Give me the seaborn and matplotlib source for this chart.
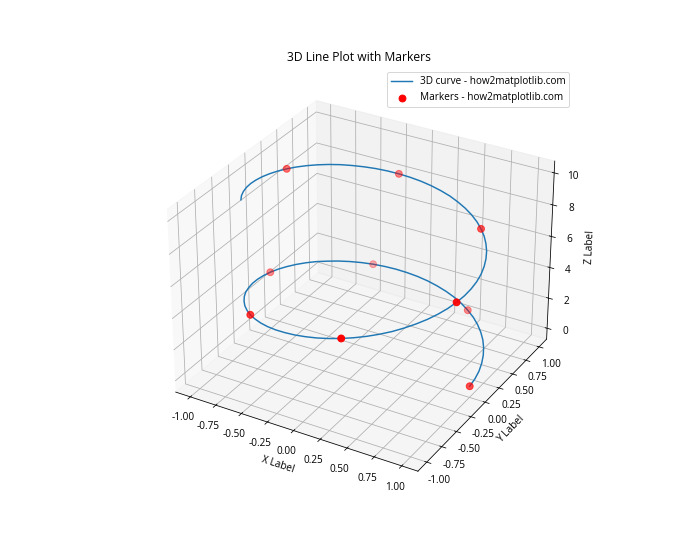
import matplotlib
matplotlib.use('Agg')
import matplotlib.pyplot as plt
import seaborn as sns

sns.reset_orig()
plt.rcParams['font.family'] = ['Open Sans', 'DejaVu Sans']
plt.rcParams['font.size'] = 10.35
plt.rcParams['axes.unicode_minus'] = False

curve_x = [1.000, .995, .980, .954, .919, .875, .822, .760, .691, .615,
           .531, .444, .351, .255, .156, .056, -.045, -.146, -.245, -.341,
           -.434, -.523, -.606, -.683, -.753, -.816, -.870, -.915, -.951, -.978,
           -.994, -1.000, -.996, -.982, -.957, -.924, -.880, -.827, -.767, -.698,
           -.623, -.541, -.453, -.361, -.265, -.166, -.066, .035, .136, .235,
           .332, .425, .514, .598, .676, .747, .809, .865, .911, .948,
           .975, .993, 1.000, .997, .984, .960, .927, .885, .833, .774,
           .706, .631, .549, .462, .370, .275, .176, .076, -.025, -.125,
           -.225, -.322, -.416, -.505, -.590, -.668, -.740, -.804, -.860, -.907,
           -.945, -.973, -.991, -1.000, -.998, -.985, -.963, -.931, -.890, -.839]
curve_y = [0.000, .101, .201, .298, .393, .484, .570, .650, .723, .789,
           .847, .896, .937, .967, .988, .998, .999, .989, .970, .940,
           .901, .852, .795, .730, .657, .578, .493, .403, .308, .211,
           .111, .010, -.090, -.190, -.289, -.384, -.475, -.561, -.642, -.716,
           -.783, -.841, -.892, -.933, -.964, -.986, -.998, -.999, -.991, -.972,
           -.943, -.905, -.858, -.801, -.737, -.665, -.587, -.502, -.412, -.318,
           -.221, -.121, -.021, .080, .180, .279, .374, .466, .553, .634,
           .708, .776, .836, .887, .929, .962, .984, .997, 1.000, .992,
           .974, .947, .910, .863, .808, .744, .673, .595, .511, .422,
           .328, .231, .132, .031, -.070, -.170, -.269, -.364, -.457, -.544]
curve_z = [0.00, .10, .20, .30, .40, .51, .61, .71, .81, .91,
           1.01, 1.11, 1.21, 1.31, 1.41, 1.52, 1.62, 1.72, 1.82, 1.92,
           2.02, 2.12, 2.22, 2.32, 2.42, 2.53, 2.63, 2.73, 2.83, 2.93,
           3.03, 3.13, 3.23, 3.33, 3.43, 3.54, 3.64, 3.74, 3.84, 3.94,
           4.04, 4.14, 4.24, 4.34, 4.44, 4.55, 4.65, 4.75, 4.85, 4.95,
           5.05, 5.15, 5.25, 5.35, 5.45, 5.56, 5.66, 5.76, 5.86, 5.96,
           6.06, 6.16, 6.26, 6.36, 6.46, 6.57, 6.67, 6.77, 6.87, 6.97,
           7.07, 7.17, 7.27, 7.37, 7.47, 7.58, 7.68, 7.78, 7.88, 7.98,
           8.08, 8.18, 8.28, 8.38, 8.48, 8.59, 8.69, 8.79, 8.89, 8.99,
           9.09, 9.19, 9.29, 9.39, 9.49, 9.60, 9.70, 9.80, 9.90, 10.00]

marker_x = [1.000, .531, -.434, -.994, -.623, .332, .975, .706, -.225, -.945]
marker_y = [0.000, .847, .901, .111, -.783, -.943, -.221, .708, .974, .328]
marker_z = [0.00, 1.01, 2.02, 3.03, 4.04, 5.05, 6.06, 7.07, 8.08, 9.09]

line_color = sns.color_palette('tab10')[0]

fig = plt.figure(figsize=(10, 8), dpi=70)
ax = fig.add_subplot(111, projection='3d')
ax.plot(curve_x, curve_y, curve_z, color=line_color, label='3D curve - how2matplotlib.com')
ax.scatter(marker_x, marker_y, marker_z, color='red', s=50, label='Markers - how2matplotlib.com')
ax.set_xlabel('X Label')
ax.set_ylabel('Y Label')
ax.set_zlabel('Z Label')
ax.set_title('3D Line Plot with Markers')
ax.legend()
plt.savefig('out.png')
